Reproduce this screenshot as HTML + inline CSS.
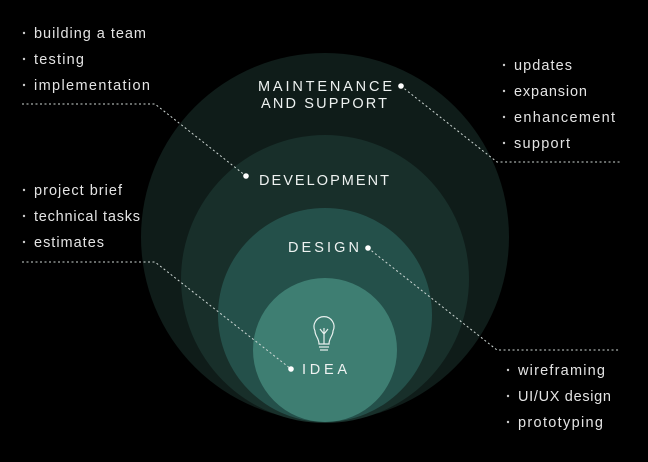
<!DOCTYPE html>
<html><head><style>
html,body{margin:0;padding:0;background:#000;}
svg{display:block}
.t{font-family:"Liberation Sans",sans-serif;font-size:14.5px;fill:#e4e4e4;}
.h{font-family:"Liberation Sans",sans-serif;font-size:14.5px;fill:#eef2f1;}
</style></head><body>
<svg width="648" height="462" viewBox="0 0 648 462">
<rect width="648" height="462" fill="#000"/>
<circle cx="325" cy="237" r="184" fill="#0f1c19"/>
<circle cx="325" cy="279" r="144" fill="#182f2a"/>
<circle cx="325" cy="315" r="107" fill="#24504a"/>
<circle cx="325" cy="350" r="72" fill="#3e7e72"/>
<g stroke="#cfd8d5" stroke-width="1" stroke-dasharray="2,2.5" fill="none">
<polyline points="22,104 155,104 246,176"/>
<polyline points="401,86 497,162 620,162"/>
<polyline points="22,262 155,262 291,369"/>
<polyline points="368,248 497,350 620,350"/>
</g>
<g fill="#fff">
<circle cx="246" cy="176" r="2.8"/><circle cx="401" cy="86" r="2.8"/>
<circle cx="291" cy="369" r="2.8"/><circle cx="368" cy="248" r="2.8"/>
</g>
<text class="h" x="258" y="91" textLength="134" lengthAdjust="spacing">MAINTENANCE</text>
<text class="h" x="261" y="108" textLength="126" lengthAdjust="spacing">AND SUPPORT</text>
<text class="h" x="259" y="185" textLength="130" lengthAdjust="spacing">DEVELOPMENT</text>
<text class="h" x="288" y="252" textLength="71" lengthAdjust="spacing">DESIGN</text>
<text class="h" x="302" y="374" textLength="45" lengthAdjust="spacing">IDEA</text>
<g stroke="#e8f0ee" stroke-width="1.2" fill="none">
<path d="M319,344 C319,338 315,336 315,331 A10,10 0 1 1 333,331 C333,336 329,338 329,344 Z"/>
<line x1="319" y1="347" x2="329" y2="347"/><line x1="320" y1="350" x2="328" y2="350"/>
<path d="M324,344 V334 M324,334 L320,329 M324,334 L328,329 M324,334 V328"/>
</g>
<g class="t">
<text x="34" y="38" textLength="112" lengthAdjust="spacing">building a team</text>
<text x="34" y="64" textLength="50" lengthAdjust="spacing">testing</text>
<text x="34" y="90" textLength="116" lengthAdjust="spacing">implementation</text>
<text x="34" y="195" textLength="88" lengthAdjust="spacing">project brief</text>
<text x="34" y="221" textLength="106" lengthAdjust="spacing">technical tasks</text>
<text x="34" y="247" textLength="70" lengthAdjust="spacing">estimates</text>
<text x="514" y="70" textLength="58" lengthAdjust="spacing">updates</text>
<text x="514" y="96" textLength="73" lengthAdjust="spacing">expansion</text>
<text x="514" y="122" textLength="101" lengthAdjust="spacing">enhancement</text>
<text x="514" y="148" textLength="56" lengthAdjust="spacing">support</text>
<text x="518" y="375" textLength="87" lengthAdjust="spacing">wireframing</text>
<text x="518" y="401" textLength="93" lengthAdjust="spacing">UI/UX design</text>
<text x="518" y="427" textLength="85" lengthAdjust="spacing">prototyping</text>
</g>
<g fill="#ccc">
<circle cx="24" cy="33" r="1.2"/><circle cx="24" cy="59" r="1.2"/><circle cx="24" cy="85" r="1.2"/>
<circle cx="24" cy="190" r="1.2"/><circle cx="24" cy="216" r="1.2"/><circle cx="24" cy="242" r="1.2"/>
<circle cx="504" cy="65" r="1.2"/><circle cx="504" cy="91" r="1.2"/><circle cx="504" cy="117" r="1.2"/><circle cx="504" cy="143" r="1.2"/>
<circle cx="508" cy="370" r="1.2"/><circle cx="508" cy="396" r="1.2"/><circle cx="508" cy="422" r="1.2"/>
</g>
</svg>
</body></html>
